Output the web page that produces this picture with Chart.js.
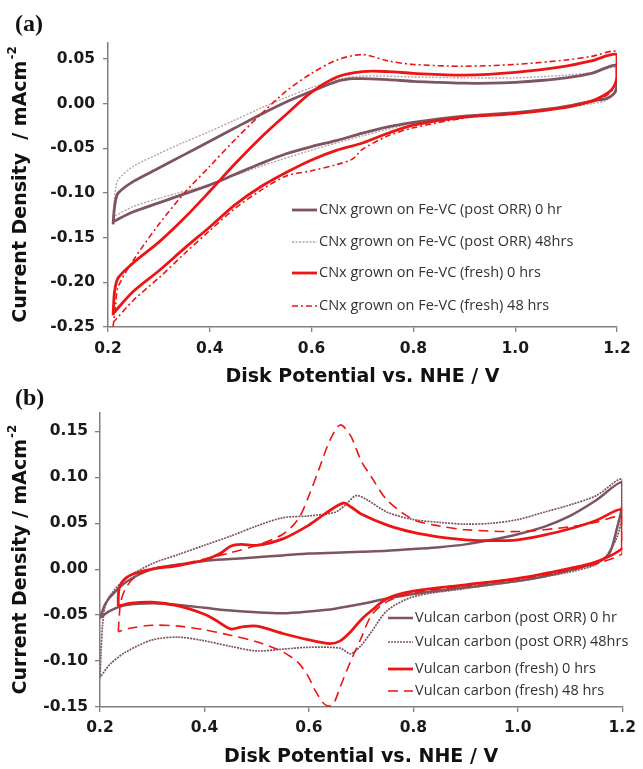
<!DOCTYPE html>
<html>
<head>
<meta charset="utf-8">
<script src="https://cdn.jsdelivr.net/npm/chart.js@4.4.1/dist/chart.umd.min.js"></script>
<style>
  body { margin: 0; background: #fff; }
  canvas { position: absolute; left: 0; }
</style>
</head>
<body>
<canvas id="chartA" width="643" height="395" style="top:0"></canvas>
<canvas id="chartB" width="643" height="389" style="top:380px"></canvas>
<script>
// ---- tick values ----
const potentialTicks = [0.2, 0.4, 0.6, 0.8, 1.0, 1.2];
const aCurrentTicks = [-0.25, -0.20, -0.15, -0.10, -0.05, 0.00, 0.05];
const bCurrentTicks = [-0.15, -0.10, -0.05, 0.00, 0.05, 0.10, 0.15];

// ---- (a) CNx grown on Fe-VC: potential (V) and current density (mA cm-2), one full sweep each ----
const aPostOrr0hE = [0.21, 0.212, 0.215, 0.22, 0.25, 0.3, 0.35, 0.4, 0.45, 0.5, 0.55, 0.6, 0.65, 0.68, 0.7, 0.75, 0.8, 0.85, 0.9, 0.95, 1.0, 1.05, 1.1, 1.15, 1.2,
  1.2, 1.195, 1.18, 1.15, 1.1, 1.05, 1.0, 0.95, 0.9, 0.85, 0.8, 0.75, 0.7, 0.65, 0.6, 0.55, 0.5, 0.45, 0.4, 0.35, 0.3, 0.25, 0.21];
const aPostOrr0hJ = [-0.135, -0.12, -0.108, -0.1, -0.087, -0.072, -0.057, -0.042, -0.027, -0.012, 0.002, 0.014, 0.025, 0.028, 0.028, 0.027, 0.025, 0.024, 0.023, 0.023, 0.024, 0.026, 0.029, 0.034, 0.043,
  0.021, 0.012, 0.006, 0.003, -0.003, -0.007, -0.010, -0.012, -0.014, -0.017, -0.021, -0.026, -0.033, -0.041, -0.048, -0.056, -0.067, -0.079, -0.091, -0.101, -0.111, -0.121, -0.132];

const aPostOrr48hE = [0.21, 0.212, 0.215, 0.22, 0.25, 0.3, 0.35, 0.4, 0.45, 0.5, 0.55, 0.6, 0.65, 0.7, 0.8, 0.9, 1.0, 1.1, 1.15, 1.2,
  1.2, 1.18, 1.15, 1.1, 1.0, 0.9, 0.8, 0.7, 0.6, 0.5, 0.4, 0.3, 0.25, 0.21];
const aPostOrr48hJ = [-0.13, -0.11, -0.095, -0.085, -0.07, -0.056, -0.043, -0.031, -0.018, -0.005, 0.007, 0.018, 0.027, 0.031, 0.03, 0.029, 0.029, 0.032, 0.035, 0.04,
  0.015, 0.004, 0.0, -0.004, -0.01, -0.015, -0.022, -0.036, -0.052, -0.07, -0.09, -0.106, -0.115, -0.127];

const aFresh0hE = [0.21, 0.211, 0.213, 0.22, 0.25, 0.3, 0.35, 0.4, 0.45, 0.5, 0.55, 0.6, 0.65, 0.7, 0.75, 0.8, 0.9, 1.0, 1.1, 1.15, 1.2,
  1.2, 1.19, 1.17, 1.15, 1.1, 1.0, 0.9, 0.8, 0.75, 0.7, 0.65, 0.6, 0.55, 0.5, 0.45, 0.4, 0.35, 0.3, 0.25, 0.21];
const aFresh0hJ = [-0.237, -0.225, -0.21, -0.195, -0.178, -0.155, -0.128, -0.098, -0.067, -0.038, -0.012, 0.013, 0.03, 0.036, 0.036, 0.034, 0.032, 0.035, 0.042, 0.048, 0.055,
  0.03, 0.016, 0.008, 0.003, -0.004, -0.011, -0.015, -0.024, -0.033, -0.044, -0.052, -0.063, -0.077, -0.093, -0.113, -0.138, -0.162, -0.187, -0.21, -0.235];

const aFresh48hE = [0.21, 0.215, 0.22, 0.25, 0.3, 0.35, 0.4, 0.45, 0.5, 0.55, 0.6, 0.65, 0.7, 0.75, 0.8, 0.9, 1.0, 1.1, 1.15, 1.2,
  1.2, 1.19, 1.17, 1.15, 1.1, 1.0, 0.9, 0.8, 0.75, 0.7, 0.68, 0.65, 0.6, 0.55, 0.5, 0.45, 0.4, 0.35, 0.3, 0.25, 0.21];
const aFresh48hJ = [-0.25, -0.225, -0.205, -0.175, -0.135, -0.1, -0.07, -0.04, -0.012, 0.014, 0.034, 0.049, 0.055, 0.048, 0.044, 0.042, 0.044, 0.049, 0.053, 0.058,
  0.03, 0.015, 0.006, 0.002, -0.004, -0.011, -0.016, -0.027, -0.036, -0.051, -0.062, -0.068, -0.075, -0.081, -0.097, -0.117, -0.142, -0.168, -0.195, -0.22, -0.245];

// ---- (b) Vulcan carbon ----
const bPostOrr0hE = [0.2, 0.205, 0.21, 0.22, 0.25, 0.3, 0.35, 0.4, 0.45, 0.5, 0.55, 0.6, 0.65, 0.7, 0.75, 0.8, 0.85, 0.9, 0.95, 1.0, 1.05, 1.1, 1.15, 1.2,
  1.2, 1.19, 1.175, 1.15, 1.1, 1.05, 1.0, 0.9, 0.8, 0.75, 0.7, 0.65, 0.6, 0.55, 0.5, 0.45, 0.4, 0.35, 0.3, 0.25, 0.22, 0.2];
const bPostOrr0hJ = [-0.053, -0.045, -0.038, -0.03, -0.014, 0.0, 0.005, 0.009, 0.011, 0.013, 0.015, 0.017, 0.018, 0.019, 0.02, 0.022, 0.024, 0.027, 0.032, 0.038, 0.046, 0.058, 0.075, 0.095,
  0.07, 0.045, 0.017, 0.007, -0.001, -0.008, -0.013, -0.02, -0.027, -0.032, -0.038, -0.043, -0.046, -0.048, -0.047, -0.045, -0.042, -0.039, -0.037, -0.039, -0.045, -0.053];

const bPostOrr48hE = [0.2, 0.202, 0.205, 0.21, 0.22, 0.25, 0.3, 0.35, 0.4, 0.45, 0.5, 0.55, 0.6, 0.65, 0.67, 0.69, 0.71, 0.75, 0.8, 0.85, 0.9, 0.95, 1.0, 1.05, 1.1, 1.15, 1.2,
  1.2, 1.19, 1.17, 1.15, 1.1, 1.0, 0.9, 0.8, 0.75, 0.72, 0.7, 0.68, 0.66, 0.6, 0.55, 0.5, 0.45, 0.4, 0.35, 0.3, 0.25, 0.22, 0.2];
const bPostOrr48hJ = [-0.118, -0.09, -0.06, -0.04, -0.028, -0.01, 0.006, 0.016, 0.026, 0.036, 0.047, 0.056, 0.058, 0.062, 0.07, 0.08, 0.076, 0.062, 0.054, 0.051, 0.049, 0.05, 0.054, 0.062, 0.07, 0.08, 0.098,
  0.06, 0.035, 0.015, 0.005, -0.003, -0.013, -0.021, -0.03, -0.045, -0.068, -0.083, -0.092, -0.086, -0.085, -0.087, -0.089, -0.084, -0.078, -0.074, -0.077, -0.09, -0.103, -0.118];

const bFresh0hE = [0.235, 0.235, 0.237, 0.245, 0.26, 0.3, 0.35, 0.4, 0.43, 0.45, 0.47, 0.5, 0.55, 0.6, 0.63, 0.665, 0.68, 0.7, 0.75, 0.8, 0.85, 0.9, 0.95, 1.0, 1.05, 1.1, 1.15, 1.2,
  1.2, 1.2, 1.15, 1.1, 1.0, 0.9, 0.8, 0.75, 0.72, 0.7, 0.68, 0.66, 0.64, 0.6, 0.55, 0.5, 0.47, 0.45, 0.42, 0.4, 0.35, 0.3, 0.26, 0.235];
const bFresh0hJ = [-0.04, -0.03, -0.02, -0.012, -0.006, 0.0, 0.004, 0.01, 0.017, 0.025, 0.027, 0.026, 0.033, 0.048, 0.06, 0.072, 0.068, 0.06, 0.048, 0.04, 0.035, 0.032, 0.031, 0.032, 0.037, 0.044, 0.053, 0.065,
  0.04, 0.023, 0.008, 0.001, -0.01, -0.017, -0.024, -0.032, -0.045, -0.055, -0.068, -0.078, -0.081, -0.077, -0.07, -0.062, -0.063, -0.065, -0.055, -0.049, -0.04, -0.036, -0.037, -0.04];

const bFresh48hE = [0.235, 0.237, 0.24, 0.25, 0.27, 0.3, 0.35, 0.4, 0.45, 0.5, 0.55, 0.58, 0.6, 0.62, 0.64, 0.66, 0.68, 0.7, 0.72, 0.75, 0.8, 0.85, 0.9, 1.0, 1.1, 1.15, 1.2,
  1.2, 1.2, 1.15, 1.1, 1.0, 0.9, 0.8, 0.75, 0.72, 0.7, 0.68, 0.66, 0.645, 0.63, 0.61, 0.6, 0.58, 0.55, 0.5, 0.45, 0.4, 0.35, 0.3, 0.26, 0.235];
const bFresh48hJ = [-0.068, -0.05, -0.035, -0.02, -0.007, 0.0, 0.005, 0.011, 0.018, 0.026, 0.038, 0.055, 0.08, 0.11, 0.14, 0.157, 0.145, 0.118, 0.1, 0.075, 0.054, 0.047, 0.043, 0.041, 0.046, 0.051, 0.057,
  0.03, 0.017, 0.006, -0.001, -0.011, -0.018, -0.026, -0.035, -0.05, -0.075, -0.1, -0.128, -0.148, -0.147, -0.13, -0.118, -0.102, -0.09, -0.079, -0.072, -0.066, -0.062, -0.061, -0.064, -0.068];

const BROWN = '#7d5560';
const PALE = '#b9a0a6';
const RED = '#ec1515';

function toPoints(E, J) {
  return E.map((x, i) => ({ x: x, y: J[i] }));
}

function sweep(label, E, J, color, width, dash, order) {
  return {
    label: label,
    data: toPoints(E, J),
    borderColor: color,
    borderWidth: width,
    borderDash: dash,
    showLine: true,
    pointRadius: 0,
    tension: 0.3,
    fill: false,
    order: order
  };
}

// axis titles, panel letter and a line-sample legend
const panelDecor = {
  id: 'panelDecor',
  afterDraw(chart, args, o) {
    const { ctx, chartArea } = chart;
    ctx.save();
    ctx.fillStyle = '#111';

    ctx.font = 'bold 24px "Liberation Serif"';
    ctx.textAlign = 'left';
    ctx.textBaseline = 'middle';
    ctx.fillText(o.letter, o.letterX, o.letterY);

    ctx.font = 'bold 19px "DejaVu Sans"';
    ctx.textAlign = 'center';
    ctx.fillText('Disk Potential vs. NHE / V', (chartArea.left + chartArea.right) / 2, o.xTitleY);

    // y title with superscript
    const main = o.yTitle;
    const sup = '-2';
    ctx.font = 'bold 19px "DejaVu Sans"';
    const w1 = ctx.measureText(main).width;
    ctx.font = 'bold 12px "DejaVu Sans"';
    const w2 = ctx.measureText(sup).width;
    ctx.translate(o.yTitleX, (chartArea.top + chartArea.bottom) / 2);
    ctx.rotate(-Math.PI / 2);
    ctx.textAlign = 'left';
    const x0 = -(w1 + w2) / 2;
    ctx.font = 'bold 19px "DejaVu Sans"';
    ctx.fillText(main, x0, 0);
    ctx.font = 'bold 12px "DejaVu Sans"';
    ctx.fillText(sup, x0 + w1 + 1, -8);
    ctx.setTransform(1, 0, 0, 1, 0, 0);

    // legend
    ctx.font = '14.5px "Open Sans"';
    ctx.textBaseline = 'middle';
    chart.data.datasets.forEach((ds, i) => {
      const y = o.legendY[i];
      ctx.save();
      ctx.strokeStyle = ds.borderColor;
      ctx.lineWidth = ds.borderWidth;
      ctx.setLineDash(ds.borderDash || []);
      ctx.beginPath();
      ctx.moveTo(o.legendX, y);
      ctx.lineTo(o.legendX + 25, y);
      ctx.stroke();
      ctx.restore();
      ctx.fillStyle = '#333';
      ctx.fillText(ds.label, o.legendX + 27, y);
    });
    ctx.restore();
  }
};

function makeOptions(yMin, yMax, yTicks, yAxisWidth, xAxisHeight, padTop, padRight, tickPad, decor) {
  const tickFont = { family: 'DejaVu Sans', size: 15.5, weight: 'bold' };
  const axisGrid = { drawOnChartArea: false, drawTicks: true, tickLength: 5, color: '#7f7f7f', lineWidth: 1.3 };
  return {
    responsive: false,
    animation: false,
    layout: { padding: { top: padTop, right: padRight, left: 0, bottom: 0 } },
    scales: {
      x: {
        type: 'linear',
        min: 0.2,
        max: 1.2,
        afterBuildTicks: s => { s.ticks = potentialTicks.map(v => ({ value: v })); },
        afterFit: s => { s.height = xAxisHeight; },
        grid: axisGrid,
        border: { display: true, color: '#7f7f7f', width: 1.5 },
        ticks: { font: tickFont, color: '#1a1a1a', padding: tickPad, maxRotation: 0, callback: v => v.toFixed(1) }
      },
      y: {
        type: 'linear',
        min: yMin,
        max: yMax,
        afterBuildTicks: s => { s.ticks = yTicks.map(v => ({ value: v })); },
        afterFit: s => { s.width = yAxisWidth; },
        grid: axisGrid,
        border: { display: true, color: '#7f7f7f', width: 1.5 },
        ticks: { font: tickFont, color: '#1a1a1a', padding: tickPad, callback: v => (Math.abs(v) < 1e-9 ? 0 : v).toFixed(2) }
      }
    },
    plugins: {
      legend: { display: false },
      tooltip: { enabled: false },
      panelDecor: decor
    }
  };
}

new Chart(document.getElementById('chartA'), {
  type: 'scatter',
  data: {
    datasets: [
      sweep('CNx grown on Fe-VC (post ORR) 0 hr', aPostOrr0hE, aPostOrr0hJ, BROWN, 2.8, [], 3),
      sweep('CNx grown on Fe-VC (post ORR) 48hrs', aPostOrr48hE, aPostOrr48hJ, PALE, 1.4, [2, 1.5], 4),
      sweep('CNx grown on Fe-VC (fresh) 0 hrs', aFresh0hE, aFresh0hJ, RED, 2.8, [], 1),
      sweep('CNx grown on Fe-VC (fresh) 48 hrs', aFresh48hE, aFresh48hJ, RED, 1.6, [6, 3, 2, 3], 2)
    ]
  },
  options: makeOptions(-0.25, 0.068, aCurrentTicks, 108, 68, 43, 26, 8, {
    letter: '(a)', letterX: 15, letterY: 25, xTitleY: 377, yTitle: 'Current Density  / mAcm', yTitleX: 21,
    legendX: 292, legendY: [210, 242, 273, 306]
  }),
  plugins: [panelDecor]
});

new Chart(document.getElementById('chartB'), {
  type: 'scatter',
  data: {
    datasets: [
      sweep('Vulcan carbon (post ORR) 0 hr', bPostOrr0hE, bPostOrr0hJ, BROWN, 2.5, [], 3),
      sweep('Vulcan carbon (post ORR) 48hrs', bPostOrr48hE, bPostOrr48hJ, BROWN, 1.7, [2, 1], 4),
      sweep('Vulcan carbon (fresh) 0 hrs', bFresh0hE, bFresh0hJ, RED, 2.8, [], 1),
      sweep('Vulcan carbon (fresh) 48 hrs', bFresh48hE, bFresh48hJ, RED, 1.6, [10, 6], 2)
    ]
  },
  options: makeOptions(-0.15, 0.17, bCurrentTicks, 100, 62, 33, 20, 7, {
    letter: '(b)', letterX: 15, letterY: 19, xTitleY: 377, yTitle: 'Current Density / mAcm', yTitleX: 21,
    legendX: 388, legendY: [238, 262, 289, 311]
  }),
  plugins: [panelDecor]
});
</script>
</body>
</html>
